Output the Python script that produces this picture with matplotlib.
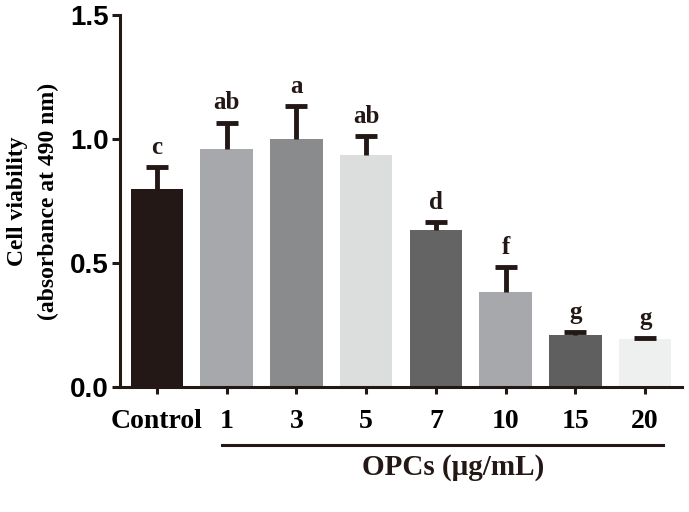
import numpy as np
import matplotlib
matplotlib.use("Agg")
from matplotlib import pyplot as plt
import matplotlib.transforms as mtransforms

groups = ["Control", "1", "3", "5", "7", "10", "15", "20"]
viability = [0.80, 0.96, 1.00, 0.935, 0.633, 0.383, 0.21, 0.194]
sd = [0.087, 0.105, 0.133, 0.077, 0.032, 0.101, 0.012, 0.004]
letters = ["c", "ab", "a", "ab", "d", "f", "g", "g"]
colors = ["#231816", "#a7a8ab", "#8a8b8c", "#dcdddd",
          "#646464", "#a7a8ab", "#5f5f5f", "#eeefef"]

serif = "Liberation Serif"
sans = "Liberation Sans"

fig = plt.figure(figsize=(6.89, 5.12), dpi=100)
ax = fig.add_axes([0.174, 0.244, 0.816, 0.727])

x = np.arange(len(groups))
ax.bar(x, viability, width=0.75, color=colors, zorder=2)
eb = ax.errorbar(x, viability, yerr=[np.zeros(len(sd)), sd], fmt="none",
                 ecolor="#231816", elinewidth=3.5, capsize=8, capthick=3.5,
                 zorder=3)
# only the upper half of the error bar is shown
eb[1][0].set_visible(False)

for xi, v, s, lab in zip(x, viability, sd, letters):
    ax.annotate(lab, (xi, v + s), xytext=(0, 6), textcoords="offset points",
                ha="center", va="bottom", fontsize=18, fontweight="bold",
                family=serif, color="#231816")

ax.set_xlim(-0.53, 7.53)
ax.set_ylim(0, 1.5)
ax.set_yticks([0.0, 0.5, 1.0, 1.5])
ax.set_yticklabels(["0.0", "0.5", "1.0", "1.5"], family=sans,
                   fontweight="bold", fontsize=20)
ax.set_xticks(x)
ax.set_xticklabels(groups, family=serif, fontweight="bold", fontsize=20)

for side in ["top", "right"]:
    ax.spines[side].set_visible(False)
for side in ["left", "bottom"]:
    ax.spines[side].set_linewidth(2.2)
    ax.spines[side].set_color("#231816")
ax.tick_params(axis="y", length=6, width=2.2, color="#231816", pad=2)
ax.tick_params(axis="x", length=5, width=2.2, color="#231816", pad=11)

ax.set_ylabel("Cell viability\n(absorbance at 490 nm)", family=serif,
              fontweight="bold", fontsize=17, labelpad=8, linespacing=1.6)

# bracket line under the OPCs doses
trans = mtransforms.blended_transform_factory(ax.transData, ax.transAxes)
ax.plot([0.93, 7.26], [-0.156, -0.156], transform=trans, color="#231816",
        lw=2.2, clip_on=False)
ax.text(4.25, -0.215, "OPCs (μg/mL)", transform=trans, ha="center",
        va="center", family=serif, fontweight="bold", fontsize=21,
        color="#231816")

fig.savefig("out.png", dpi=100)
